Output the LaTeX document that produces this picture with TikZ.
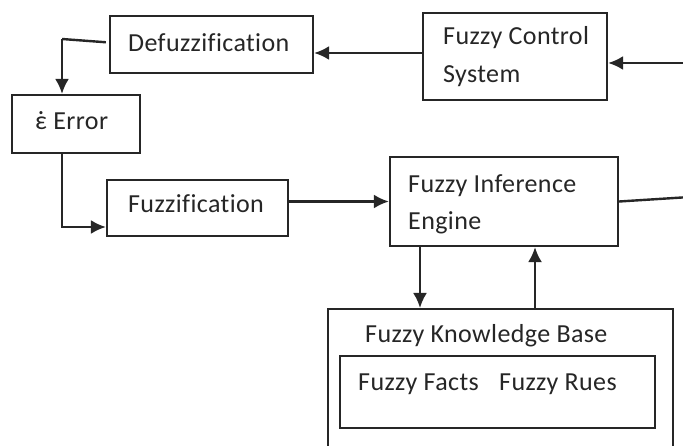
\documentclass[tikz,border=0pt]{standalone}
\usepackage{fontspec}
\setmainfont[Ligatures=NoCommon, LetterSpace=1.5]{Carlito}
\usetikzlibrary{arrows.meta}
% epsilon with a dot above, built from the spacing dot of the same font
\newcommand{\epsdot}{\ooalign{ε\cr\hidewidth ˙\hidewidth\cr}}
\begin{document}
\begin{tikzpicture}[x=1pt,y=-1pt,
  box/.style={draw=black!85, line width=2.2pt, rectangle, inner sep=0pt},
  lbl/.style={font=\fontsize{26}{38}\selectfont, text=black!85, inner sep=0pt, anchor=base west},
  conn/.style={draw=black!85, line width=2.4pt},
  arr/.style={conn, -{Latex[length=15pt,width=14pt]}}]
  \clip (0,0) rectangle (683,446);
  \fill[white] (0,0) rectangle (683,446);

  % blocks
  \node[box, minimum width=203pt, minimum height=57pt] (defuzz) at (211.5,44.5) {};
  \node[box, minimum width=184pt, minimum height=87pt] (fcs) at (515,56.5) {};
  \node[box, minimum width=128pt, minimum height=58pt] (err) at (76,124) {};
  \node[box, minimum width=181pt, minimum height=56pt] (fuzz) at (197.5,208) {};
  \node[box, minimum width=228pt, minimum height=89pt] (fie) at (504,201.5) {};
  \node[box, minimum width=345pt, minimum height=180pt, anchor=north] (kb) at (500.5,308) {};
  \node[box, minimum width=315pt, minimum height=72pt] (facts) at (497.5,392) {};

  % labels
  \node[lbl] (tdefuzz) at (128,52) {Defuzzification};
  \node[lbl] (tfcs1) at (443,45) {Fuzzy Control};
  \node[lbl] (tfcs2) at (443,83) {System};
  \node[lbl] (terr) at (35,130) {\epsdot\ Error};
  \node[lbl] (tfuzz) at (128,213) {Fuzzification};
  \node[lbl] (tfie1) at (408,193) {Fuzzy Inference};
  \node[lbl] (tfie2) at (408,230) {Engine};
  \node[lbl] (tkb) at (365,343) {Fuzzy Knowledge Base};
  \node[lbl] (tfacts) at (358,390) {Fuzzy Facts};
  \node[lbl] (trules) at (499,390) {Fuzzy Rues};

  % connectors
  \coordinate (inR) at (690,63);
  \coordinate (outR) at (690,197);
  \coordinate (c1) at (62,39);
  \coordinate (c2) at (62,227);
  \coordinate (dn) at (420,0);
  \coordinate (up) at (535,0);

  \draw[arr] (inR) -- (inR -| fcs.east);
  \draw[arr] ([yshift=3.5pt]fcs.west) -- ([yshift=3.5pt]fcs.west -| defuzz.east);
  \draw[conn, shorten <=3pt] ([yshift=2pt]defuzz.west) -- (c1);
  \draw[arr] (c1) -- (c1 |- err.north);
  \draw[arr] (c2 |- err.south) -- (c2) -- (c2 -| fuzz.west);
  \draw[arr] (fuzz.east |- fie.west) -- (fie.west);
  \draw[conn] (fie.east) -- (outR);
  \draw[arr] (dn |- fie.south) -- (dn |- kb.north);
  \draw[arr] (up |- kb.north) -- (up |- fie.south);
\end{tikzpicture}
\end{document}
